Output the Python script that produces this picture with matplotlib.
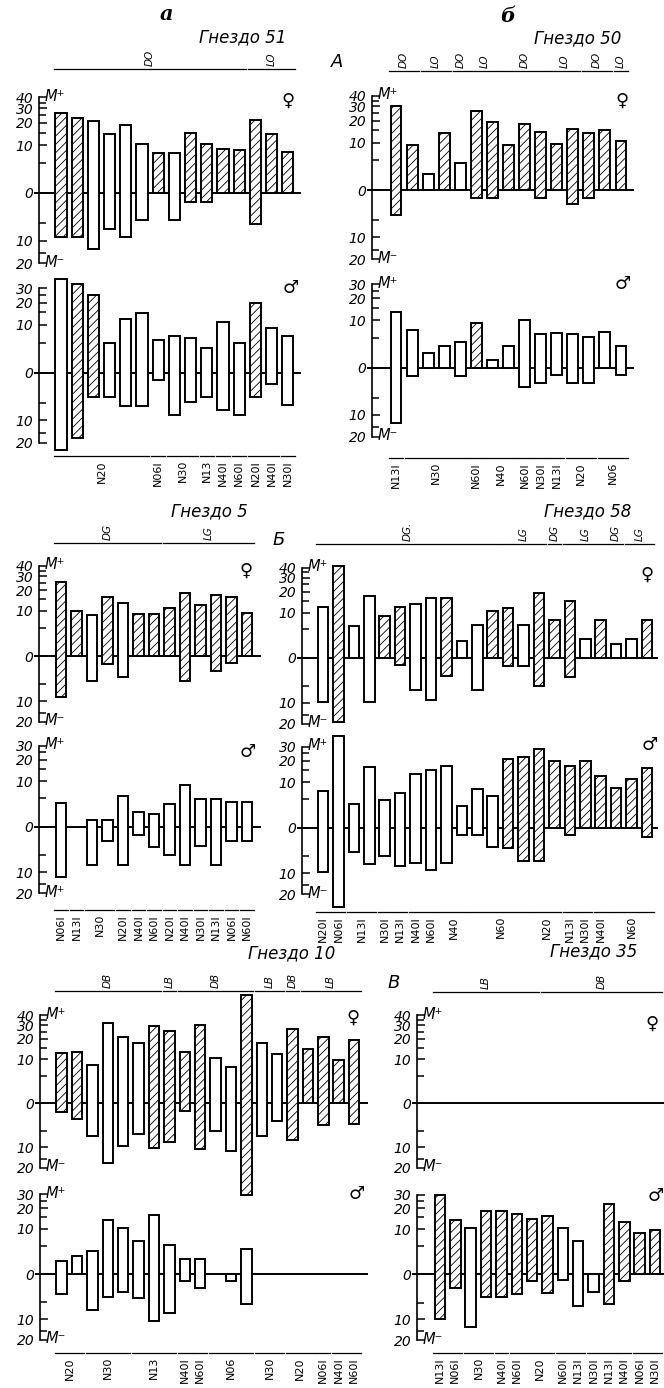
import numpy as np
import matplotlib
matplotlib.use("Agg")
import matplotlib.pyplot as plt

nan = np.nan

# ---- data: upper value (M+), lower value (M-), hatched flag ----
# Гнездо 51
n51_f_up = [26.5, 22.8, 21.3, 14.4, 18.9, 10.4, 7.4, 7.6, 14.8, 10.6, 8.9, 8.5, 21.7, 14.5, 7.9]
n51_f_dn = [8.6, 8.6, 13.2, 6.5, 8.8, 4.2, 0, 4.2, 1.2, 1.2, 0, 0, 5.3, 0, 0]
n51_f_h = [1, 1, 0, 0, 0, 0, 1, 0, 1, 1, 1, 1, 1, 1, 1]
n51_m_up = [38, 33.5, 24.7, 4.8, 12.1, 14.5, 5.7, 6.7, 6.0, 3.9, 10.9, 5.0, 19.7, 8.9, 6.5]
n51_m_dn = [24.9, 17.3, 3.8, 3.8, 5.7, 5.7, 0.9, 8.1, 4.7, 3.7, 6.8, 8.1, 3.7, 1.5, 5.5]
n51_m_h = [0, 1, 1, 0, 0, 0, 0, 0, 0, 0, 0, 0, 1, 0, 0]
n51_top = [("DO", 0, 11), ("LO", 12, 14)]
n51_bot = [("N20", 0, 5), ("N06I", 6, 6), ("N30", 7, 8), ("N13", 9, 9), ("N40I", 10, 10),
           ("N60I", 11, 11), ("N20I", 12, 12), ("N40I", 13, 13), ("N30I", 14, 14)]

# Гнездо 50
n50_f_up = [30.3, 9.3, 2.3, 13.7, 4.3, 26.6, 19.3, 9.3, 18.0, 14.1, 9.6, 15.8, 14.0, 15.2, 10.6]
n50_f_dn = [4.0, 0, 0, 0, 0, 1.0, 1.0, 0, 0, 1.0, 0, 1.9, 1.0, 0, 0]
n50_f_h = [1, 1, 0, 1, 0, 1, 1, 1, 1, 1, 1, 1, 1, 1, 1]
n50_m_up = [13.3, 7.1, 2.1, 3.3, 4.0, 9.1, 1.0, 3.2, 10.3, 5.9, 6.1, 6.0, 5.3, 6.4, 3.3]
n50_m_dn = [13.1, 1.05, 0, 0, 1.05, 0, 0, 0, 2.9, 2.1, 0.9, 2.1, 2.1, 0, 0.9]
n50_m_h = [0, 0, 0, 0, 0, 1, 0, 0, 0, 0, 0, 0, 0, 0, 0]
n50_top = [("DO", 0, 1), ("LO", 2, 3), ("DO", 4, 4), ("LO", 5, 6), ("DO", 7, 9),
           ("LO", 10, 11), ("DO", 12, 13), ("LO", 14, 14)]
n50_bot = [("N13I", 0, 0), ("N30", 1, 4), ("N60I", 5, 5), ("N40", 6, 7), ("N60I", 8, 8),
           ("N30I", 9, 9), ("N13I", 10, 10), ("N20", 11, 12), ("N06", 13, 14)]

# Гнездо 5
n5_f_up = [25.7, 10.0, 8.5, 16.2, 13.2, 8.8, 8.8, 11.2, 18.3, 12.3, 17.0, 15.9, 9.1]
n5_f_dn = [8.7, 0, 4.1, 1.1, 3.3, 0, 0, 0, 4.1, 0, 2.2, 1.0, 0]
n5_f_h = [1, 1, 0, 1, 0, 1, 1, 1, 1, 1, 1, 1, 1]
n5_m_up = [3.8, nan, 0.9, 0.9, 5.6, 2.2, 1.8, 3.7, 8.7, 4.7, 4.7, 4.05, 4.05]
n5_m_dn = [11.7, nan, 7.7, 2.1, 7.7, 1.1, 3.1, 5.0, 7.7, 2.9, 7.7, 2.0, 2.0]
n5_m_h = [0] * 13
n5_top = [("DG", 0, 6), ("LG", 7, 12)]
n5_bot = [("N06I", 0, 0), ("N13I", 1, 1), ("N30", 2, 3), ("N20I", 4, 4), ("N40I", 5, 5),
          ("N60I", 6, 6), ("N20I", 7, 7), ("N40I", 8, 8), ("N30I", 9, 9), ("N13I", 10, 10),
          ("N06I", 11, 11), ("N60I", 12, 12)]

# Гнездо 58
n58_f_up = [12.2, 42, 5.9, 17.6, 8.8, 12.2, 13.6, 16.5, 16.5, 2.5, 6.0, 10.8, 11.9, 6.0,
            19.5, 7.4, 14.9, 2.9, 7.4, 1.9, 2.8, 7.6]
n58_f_dn = [9.6, 19, 0, 9.6, 0, 1.0, 5.9, 9.0, 2.8, 0, 6.1, 0, 1.1, 1.1, 5.0, 0, 3.1,
            0, 0, 0, 0, 0]
n58_f_h = [0, 1, 0, 0, 1, 1, 0, 0, 1, 0, 0, 1, 1, 0, 1, 1, 1, 0, 1, 0, 0, 1]
n58_m_up = [7.0, 40.7, 3.9, 16.5, 4.8, 6.5, 13.3, 15.1, 17.3, 3.5, 7.7, 5.8, 21.0, 22.7,
            28.3, 19.8, 17.3, 19.8, 12.2, 8.1, 11.1, 16.3]
n58_m_dn = [9.7, 28.8, 4.0, 7.0, 5.0, 7.5, 6.8, 9.0, 6.8, 1.0, 1.0, 3.0, 3.1, 6.1, 6.1,
            0, 1.0, 0, 0, 0, 0, 1.3]
n58_m_h = [0] * 12 + [1] * 10
n58_top = [("DG.", 0, 11), ("LG", 12, 14), ("DG", 15, 15), ("LG", 16, 18), ("DG", 19, 19),
           ("LG", 20, 21)]
n58_bot = [("N20I", 0, 0), ("N06I", 1, 1), ("N13I", 2, 3), ("N30I", 4, 4), ("N13I", 5, 5),
           ("N40I", 6, 6), ("N60I", 7, 7), ("N40", 8, 9), ("N60", 10, 13), ("N20", 14, 15),
           ("N13I", 16, 16), ("N30I", 17, 17), ("N40I", 18, 18), ("N60", 19, 21)]

# Гнездо 10
n10_f_up = [12.5, 13.1, 8.1, 32.3, 21.3, 17.4, 29.2, 25.2, 13.1, 30.7, 10.4, 7.5, 70,
            17.4, 12.2, 27.3, 14.4, 21.1, 9.7, 19.4]
n10_f_dn = [1.2, 2.4, 6.3, 17.2, 9.6, 5.9, 10.2, 8.0, 1.1, 10.8, 5.0, 11.4, 45, 6.3, 2.8,
            7.5, 0, 3.6, 0, 3.4]
n10_f_h = [1, 1, 0, 0, 0, 0, 1, 1, 1, 1, 0, 0, 1, 0, 0, 1, 1, 1, 1, 1]
n10_m_up = [1.8, 2.7, 3.7, 13.5, 10.3, 6.2, 16.3, 5.1, 2.2, 2.2, nan, 0, 4.3] + [nan] * 7
n10_m_dn = [3.1, 0, 6.9, 3.8, 2.8, 3.9, 10.9, 7.9, 1.0, 2.0, nan, 1.0, 5.5] + [nan] * 7
n10_m_h = [0] * 20
n10_top = [("DB", 0, 6), ("LB", 7, 7), ("DB", 8, 12), ("LB", 13, 14), ("DB", 15, 15),
           ("LB", 16, 19)]
n10_bot = [("N20", 0, 1), ("N30", 2, 4), ("N13", 5, 7), ("N40I", 8, 8), ("N60I", 9, 9),
           ("N06", 10, 12), ("N30", 13, 14), ("N20", 15, 16), ("N06I", 17, 17),
           ("N40I", 18, 18), ("N60I", 19, 19)]

# Гнездо 35
n35_f_up = [nan] * 15
n35_f_dn = [nan] * 15
n35_f_h = [0] * 15
n35_m_up = [29.3, 13.8, 10.3, 18.6, 18.6, 16.8, 14.2, 15.9, 10.6, 6.2, 0, 22.9, 13.0, 8.8, 9.8]
n35_m_dn = [9.7, 1.9, 13.3, 3.7, 3.7, 3.0, 0.9, 2.8, 0.8, 5.9, 2.7, 5.2, 0.9, 0, 0]
n35_m_h = [1, 1, 0, 1, 1, 1, 1, 1, 0, 0, 0, 1, 1, 1, 1]
n35_top = [("LB", 0, 6), ("DB", 7, 14)]
n35_bot = [("N13I", 0, 0), ("N06I", 1, 1), ("N30", 2, 3), ("N40I", 4, 4), ("N60I", 5, 5),
           ("N20", 6, 7), ("N60I", 8, 8), ("N13I", 9, 9), ("N30I", 10, 10), ("N13I", 11, 11),
           ("N40I", 12, 12), ("N06I", 13, 13), ("N30I", 14, 14)]

nests = ["Гнездо 51", "Гнездо 50", "Гнездо 5", "Гнездо 58", "Гнездо 10", "Гнездо 35"]

# ---- layout (pixels of the 664x1388 picture) ----
W, H = 664, 1388
plt.rcParams["hatch.linewidth"] = 0.6
plt.rcParams["font.family"] = ["DejaVu Sans"]


def fwd(v):
    v = np.asarray(v, dtype=float)
    return np.sign(v) * np.log1p(np.abs(v) / 5.0)


def inv(u):
    u = np.asarray(u, dtype=float)
    return np.sign(u) * 5.0 * np.expm1(np.abs(u))


fig = plt.figure(figsize=(W / 100, H / 100), dpi=100)
ov = fig.add_axes([0, 0, 1, 1], zorder=5)
ov.set_xlim(0, W)
ov.set_ylim(H, 0)
ov.axis("off")


def draw(col, zero, k, top, up, dn, hatch, sym, sym_xy, mtop, mbot):
    axis, x0, dx, right = col
    top_px = zero - k * fwd(top)
    bot_px = zero + k * fwd(20)
    ax = fig.add_axes([axis / W, 1 - bot_px / H, (right - axis) / W, (bot_px - top_px) / H])
    ax.set_yscale("function", functions=(fwd, inv))
    ax.set_ylim(-20, top)
    x1, x2 = (axis - x0) / dx, (right - x0) / dx
    ax.set_xlim(x1, x2)
    ax.patch.set_alpha(0)
    for s in ("top", "right", "bottom"):
        ax.spines[s].set_visible(False)
    ax.spines["left"].set_linewidth(1.2)
    ax.set_xticks([])
    major = [-20, -10, 0, 10, 20, 30] + ([40] if top >= 40 else [])
    ax.set_yticks(major)
    ax.set_yticklabels([str(abs(m)) for m in major])
    ax.set_yticks([-15, -5, 5, 15, 25] + ([35] if top >= 40 else []), minor=True)
    ax.tick_params(axis="y", which="both", direction="in", width=1.1, pad=4)
    ax.tick_params(axis="y", which="major", length=6, labelsize=10)
    ax.tick_params(axis="y", which="minor", length=5)
    for t in ax.get_yticklabels():
        t.set_fontstyle("italic")
    ax.plot([x1 - 4 / dx, x2], [0, 0], color="k", lw=1.4, clip_on=False)
    for i, (u, d, h) in enumerate(zip(up, dn, hatch)):
        if np.isnan(u):
            continue
        ax.bar(i, u + d, bottom=-d, width=0.68, facecolor="white", edgecolor="k",
               linewidth=1.4, hatch="////" if h else None, clip_on=False, zorder=3)
    ov.text(sym_xy[0], sym_xy[1], sym, fontsize=13, ha="center", va="center")
    if mtop:
        ov.text(axis + 6, top_px - 1, mtop, fontsize=10.5, style="italic", ha="left", va="center")
    if mbot:
        ov.text(axis + 6, bot_px - 1, mbot, fontsize=10.5, style="italic", ha="left", va="center")


def groups(col, y, items, below):
    axis, x0, dx, right = col
    for lab, a, b in items:
        xa, xb = x0 + (a - 0.45) * dx, x0 + (b + 0.45) * dx
        ov.plot([xa, xb], [y, y], color="k", lw=0.9)
        xc = (xa + xb) / 2
        if below:
            ov.text(xc, y + 4, lab, rotation=90, ha="center", va="top", fontsize=8)
        else:
            ov.text(xc, y - 3, lab, rotation=90, ha="center", va="bottom", fontsize=7.5,
                    style="italic")


colA_a = (39, 61, 16.2, 300)
colA_b = (372, 396, 16.07, 633)
colB_a = (39, 61, 15.5, 260)
colB_b = (302, 323, 15.43, 657)
colC_a = (40, 61.7, 15.39, 367)
colC_b = (417, 440, 15.36, 664)
MP, MM = "M\u207a", "M\u207b"
F, M = "\u2640", "\u2642"

draw(colA_a, 193, 43.5, 40, n51_f_up, n51_f_dn, n51_f_h, F, (288, 101), MP, MM)
draw(colA_a, 372.7, 43.5, 30, n51_m_up, n51_m_dn, n51_m_h, M, (291, 288), None, None)
draw(colA_b, 190, 43, 40, n50_f_up, n50_f_dn, n50_f_h, F, (622, 101), MP, MM)
draw(colA_b, 367.7, 43, 30, n50_m_up, n50_m_dn, n50_m_h, M, (623, 284), MP, MM)
draw(colB_a, 656, 41, 40, n5_f_up, n5_f_dn, n5_f_h, F, (246, 571), MP, MM)
draw(colB_a, 826.7, 41.5, 30, n5_m_up, n5_m_dn, n5_m_h, M, (248, 752), MP, MP)
draw(colB_b, 657.7, 41, 40, n58_f_up, n58_f_dn, n58_f_h, F, (647, 575), MP, MM)
draw(colB_b, 827.7, 41.5, 30, n58_m_up, n58_m_dn, n58_m_h, M, (650, 745), MP, MM)
draw(colC_a, 1103.3, 40, 40, n10_f_up, n10_f_dn, n10_f_h, F, (353, 1018), MP, MM)
draw(colC_a, 1274, 41, 30, n10_m_up, n10_m_dn, n10_m_h, M, (357, 1194), MP, MM)
draw(colC_b, 1103.3, 40, 40, n35_f_up, n35_f_dn, n35_f_h, F, (652, 1024), MP, MM)
draw(colC_b, 1274.3, 41, 30, n35_m_up, n35_m_dn, n35_m_h, M, (656, 1196), None, MM)

groups(colA_a, 69, n51_top, False)
groups(colA_a, 456, n51_bot, True)
groups(colA_b, 71, n50_top, False)
groups(colA_b, 458, n50_bot, True)
groups(colB_a, 543, n5_top, False)
groups(colB_a, 910, n5_bot, True)
groups(colB_b, 544, n58_top, False)
groups(colB_b, 912, n58_bot, True)
groups(colC_a, 991, n10_top, False)
groups(colC_a, 1353, n10_bot, True)
groups(colC_b, 992, n35_top, False)
groups(colC_b, 1353, n35_bot, True)

# headings
ov.text(166, 14, "a", fontsize=15, family="DejaVu Serif", style="italic", weight="bold",
        ha="center", va="center")
ov.text(508, 16, "б", fontsize=15, family="DejaVu Serif", style="italic", weight="bold",
        ha="center", va="center")
for name, (x, y) in zip(nests, [(243, 37), (578, 38), (209, 511), (588, 511), (292, 953),
                                (594, 951)]):
    ov.text(x, y, name, fontsize=12, style="italic", ha="center", va="center")
for lab, (x, y) in zip(["A", "Б", "В"], [(337, 62), (279, 540), (394, 983)]):
    ov.text(x, y, lab, fontsize=13, style="italic", ha="center", va="center")

fig.savefig("out.png", dpi=100)
